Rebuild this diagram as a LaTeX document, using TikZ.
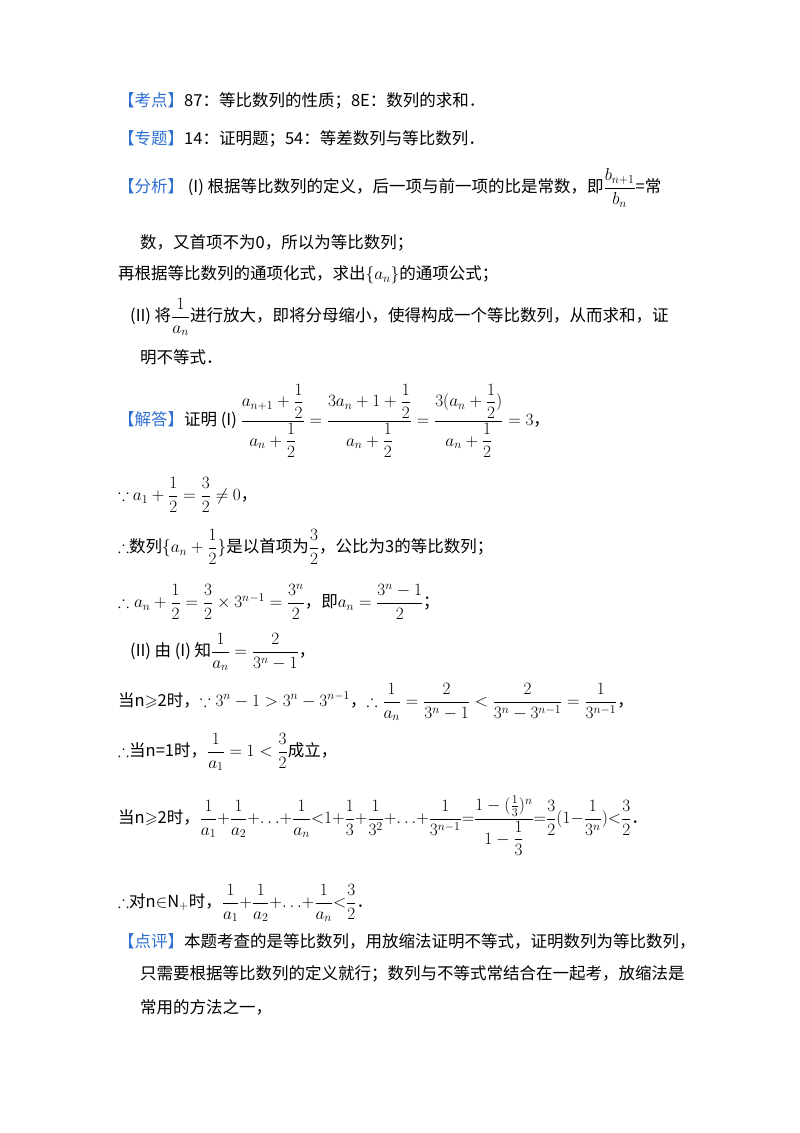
\documentclass[tikz,border=0pt]{standalone}
\usepackage{amsmath,amssymb}
\usepackage{fontspec}
\setmainfont{Noto Sans CJK SC}
\definecolor{lab}{HTML}{2E6FD0}
\tikzset{ln/.style={anchor=west,inner sep=0pt,font=\fontsize{16.5}{19}\selectfont}}
\newcommand{\lb}[1]{\textcolor{lab}{【#1】}}
\begin{document}
\begin{tikzpicture}[x=1pt,y=-1pt]
\useasboundingbox (0,0) rectangle (800,1133);
\node[ln] (l1) at (118,101) {\lb{考点}87：等比数列的性质；8E：数列的求和．};
\node[ln] (l2) at (118,139) {\lb{专题}14：证明题；54：等差数列与等比数列．};
\node[ln] (l3) at (118,188) {\lb{分析}\ (I) 根据等比数列的定义，后一项与前一项的比是常数，即$\dfrac{b_{n+1}}{b_n}$=常};
\node[ln] (l4) at (140,243) {数，又首项不为0，所以为等比数列；};
\node[ln] (l5) at (118,275) {再根据等比数列的通项化式，求出$\{a_n\}$的通项公式；};
\node[ln] (l6) at (130,317) {(II) 将$\dfrac{1}{a_n}$进行放大，即将分母缩小，使得构成一个等比数列，从而求和，证};
\node[ln] (l7) at (140,357) {明不等式．};
\node[ln] (l8) at (118,421) {\lb{解答}证明 (I) $\dfrac{a_{n+1}+\dfrac12}{a_n+\dfrac12}=\dfrac{3a_n+1+\dfrac12}{a_n+\dfrac12}=\dfrac{3(a_n+\dfrac12)}{a_n+\dfrac12}=3$，};
\node[ln] (l9) at (118,495) {$\because$ $a_1+\dfrac12=\dfrac32\neq0$，};
\node[ln] (l10) at (118,547) {$\therefore$数列$\{a_n+\dfrac12\}$是以首项为$\dfrac32$，公比为3的等比数列；};
\node[ln] (l11) at (118,602) {$\therefore a_n+\dfrac12=\dfrac32\times3^{n-1}=\dfrac{3^n}{2}$，即$a_n=\dfrac{3^n-1}{2}$；};
\node[ln] (l12) at (130,652) {(II) 由 (I) 知$\dfrac{1}{a_n}=\dfrac{2}{3^n-1}$，};
\node[ln] (l13) at (118,702) {当n$\geqslant$2时，$\because 3^n-1>3^n-3^{n-1}$，$\therefore\dfrac{1}{a_n}=\dfrac{2}{3^n-1}<\dfrac{2}{3^n-3^{n-1}}=\dfrac{1}{3^{n-1}}$，};
\node[ln] (l14) at (118,752) {$\therefore$当n=1时，$\dfrac{1}{a_1}=1<\dfrac32$成立，};
\node[ln] (l15) at (118,826) {当n$\geqslant$2时，$\dfrac1{a_1}{+}\dfrac1{a_2}{+}{\dots}{+}\dfrac1{a_n}{<}1{+}\dfrac13{+}\dfrac1{3^2}{+}{\dots}{+}\dfrac1{3^{n-1}}{=}\dfrac{1-(\frac13)^n}{1-\dfrac13}{=}\dfrac32(1{-}\dfrac1{3^n}){<}\dfrac32$．};
\node[ln] (l16) at (118,903) {$\therefore$对n$\in$N$_+$时，$\dfrac1{a_1}{+}\dfrac1{a_2}{+}{\dots}{+}\dfrac1{a_n}{<}\dfrac32$．};
\node[ln] (l17) at (118,941) {\lb{点评}本题考查的是等比数列，用放缩法证明不等式，证明数列为等比数列，};
\node[ln] (l18) at (140,974) {只需要根据等比数列的定义就行；数列与不等式常结合在一起考，放缩法是};
\node[ln] (l19) at (140,1007) {常用的方法之一，};
\end{tikzpicture}
\end{document}
